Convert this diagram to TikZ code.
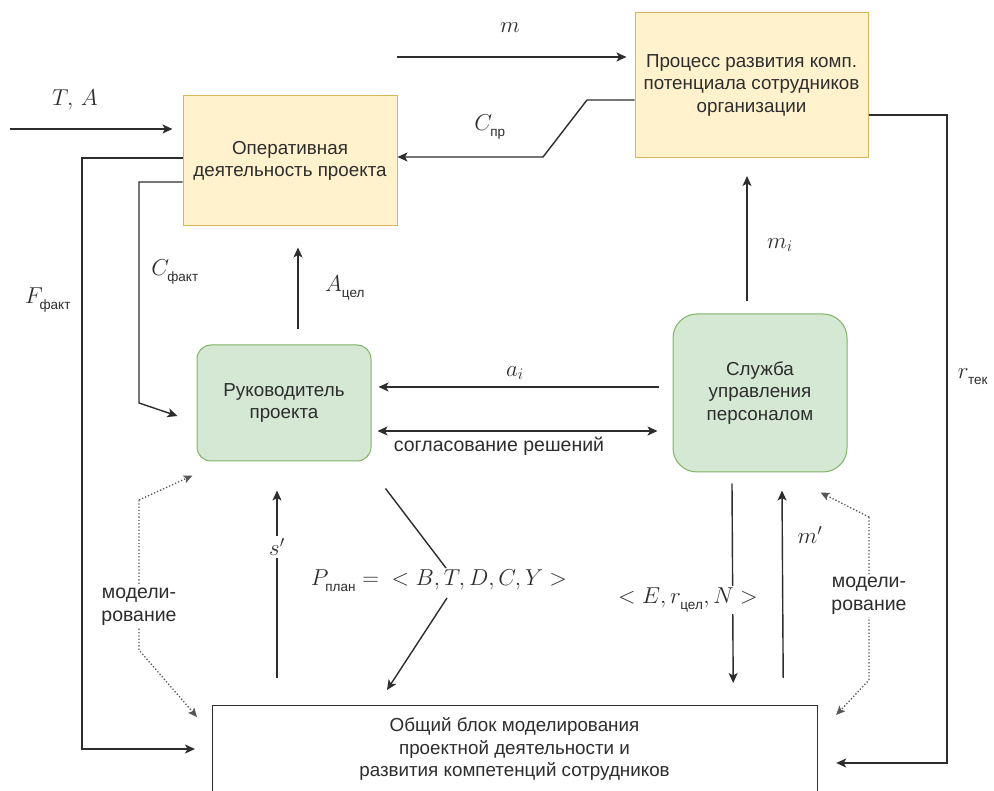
\RequirePackage{fix-cm}
\documentclass[tikz,border=0pt]{standalone}
\usepackage{fontspec}
\setmainfont{Liberation Sans}
\newfontfamily\subf{Liberation Sans}
\usetikzlibrary{arrows.meta,calc}
\definecolor{ink}{RGB}{45,45,45}
\definecolor{yfill}{HTML}{FFF2CC}
\definecolor{ydraw}{HTML}{D6B656}
\definecolor{gfill}{HTML}{D5E8D4}
\definecolor{gdraw}{HTML}{82B366}
\newcommand\boxfont{\fontsize{18.8}{22.5}\selectfont}
\newcommand\labfont{\fontsize{19.5}{23.5}\selectfont}
\newcommand\mfont{\fontsize{23}{27}\selectfont}
\newcommand\sub[1]{\lower2.5pt\hbox{\fontsize{13.5}{13.5}\selectfont\subf #1}}
\tikzset{
  ybox/.style={draw=ydraw, fill=yfill, line width=1pt, align=center, font=\boxfont, text=ink},
  gbox/.style={draw=gdraw, fill=gfill, line width=1pt, rounded corners=14pt, align=center, font=\boxfont, text=ink},
  genbox/.style={draw=ink, fill=white, line width=1.2pt},
  txt/.style={align=center, font=\boxfont, text=ink, inner sep=1pt},
  ltxt/.style={txt, font=\labfont},
  wtxt/.style={ltxt, fill=white, inner sep=2pt},
  mlab/.style={font=\mfont, text=ink, inner sep=1pt},
  wmlab/.style={mlab, fill=white, inner sep=2pt},
  conn/.style={draw=ink, line width=1.4pt},
  arr/.style={conn, -{Stealth[length=10pt,width=9pt,inset=2.5pt]}},
  darr/.style={conn, {Stealth[length=10pt,width=9pt,inset=2.5pt]}-{Stealth[length=10pt,width=9pt,inset=2.5pt]}},
  dotarr/.style={draw=ink!80, line width=1.3pt, dotted, -{Stealth[length=9pt,width=8pt,inset=2pt]}},
}
\begin{document}
\begin{tikzpicture}[x=1pt,y=-1pt]
\useasboundingbox (0,0) rectangle (994,791);
\clip (0,0) rectangle (994,791);
\fill[white] (0,0) rectangle (994,791);

% boxes
\node[ybox, minimum width=214pt, minimum height=130pt] (op) at (290,161) {Оперативная\\деятельность проекта};
\node[ybox, minimum width=233pt, minimum height=145pt] (proc) at (751.5,85) {Процесс развития комп.\\потенциала сотрудников\\организации};
\node[gbox, minimum width=174pt, minimum height=116pt] (lead) at (284,403) {Руководитель\\проекта};
\node[gbox, rounded corners=24pt, minimum width=174pt, minimum height=158pt] (hr) at (760,393) {Служба\\управления\\персоналом};
\node[genbox, minimum width=605pt, minimum height=120pt, anchor=north west] (gen) at (212,705) {};
\node[txt] (gentext) at (514.5,749) {Общий блок моделирования\\проектной деятельности и\\развития компетенций сотрудников};

% coordinates
\coordinate (ta0) at (10,129);
\coordinate (m0) at (397,57);
\coordinate (cp1) at (587,100);
\coordinate (cp2) at (543,157);
\coordinate (f1) at (82,158);
\coordinate (f2) at (82,749);
\coordinate (c1) at (139,182);
\coordinate (c2) at (139,403);
\coordinate (pb1) at (446,568);
\coordinate (pb2) at (447,598);
\coordinate (r1) at (947,115);
\coordinate (r2) at (947,763);
\coordinate (ld1) at (139,500);
\coordinate (ld2) at (139,650);
\coordinate (rd1) at (869,517);
\coordinate (rd2) at (869,680);

% connectors
\draw[arr] (ta0) -- ($(op.west|-ta0)+(-10,0)$);
\draw[arr] (m0) -- ($(proc.west|-m0)+(-8,0)$);
\draw[arr] (proc.west|-cp1) -- (cp1) -- (cp2) -- (op.east|-cp2);
\draw[arr] (op.west|-f1) -- (f1) -- (f2) -- ($(gen.west|-f2)+(-17,0)$);
\draw[arr] (op.west|-c1) -- (c1) -- (c2) -- ($(lead.west)+(-19,13)$);
\draw[arr] ($(lead.north)+(14,-15)$) -- ($(op.south)+(8,21)$);
\draw[arr] ($(hr.north)+(-13,-12)$) -- ($(proc.south)+(-4.5,18)$);
\draw[arr] ($(hr.west)+(-14,-6)$) -- ($(lead.east)+(7,-16)$);
\draw[darr] ($(lead.east)+(6,28)$) -- ($(hr.west)+(-15,38)$);
\draw[arr] ($(gen.north west)+(65,-27)$) -- ($(lead.south)+(-7,29)$);
\draw[conn] ($(lead.south east)+(14,27)$) -- (pb1);
\draw[arr] (pb2) -- ($(gen.north west)+(175,-15)$);
\draw[arr] ($(hr.south)+(-28,11)$) -- ($(gen.north east)+(-85,-22)$);
\draw[arr] ($(gen.north east)+(-35,-27)$) -- ($(hr.south)+(22,18)$);
\draw[arr] (proc.east|-r1) -- (r1) -- (r2) -- ($(gen.east|-r2)+(18,0)$);
\draw[dotarr] (ld1) -- ($(lead.south west)+(-4,14)$);
\draw[dotarr] (ld1) -- (ld2) -- ($(gen.north west)+(-15,12)$);
\draw[dotarr] (rd1) -- ($(hr.south east)+(-27,20)$);
\draw[dotarr] (rd1) -- (rd2) -- ($(gen.north east)+(18,10)$);

% labels
\node[mlab] (lm) at (510,28) {$m$};
\node[mlab] (lta) at (75,100) {$T,\, A$};
\node[mlab] (lcpr) at (490,127) {$C_{\sub{пр}}$};
\node[mlab] (lf) at (48,300) {$F_{\sub{факт}}$};
\node[mlab] (lcf) at (175,272) {$C_{\sub{факт}}$};
\node[mlab] (lac) at (345,288) {$A_{\sub{цел}}$};
\node[mlab] (lmi) at (780,245) {$m_i$};
\node[mlab] (lai) at (515,373) {$a_i$};
\node[mlab] (lrt) at (973,377) {$r_{\sub{тек}}$};
\node[wmlab] (ls) at (277,547) {$s'$};
\node[mlab] (lmp) at (810,535) {$m'$};
\node[mlab] (lplan) at (439,581) {$P_{\sub{план}} = \;\;< B, T, D, C, Y >$};
\node[wmlab] (lern) at (688,600) {$< E, r_{\sub{цел}}, N >$};
\node[ltxt] (lsog) at (499,446) {согласование решений};
\node[wtxt] (lmod1) at (139,607) {модели-\\рование};
\node[wtxt] (lmod2) at (869,596) {модели-\\рование};
\end{tikzpicture}
\end{document}
